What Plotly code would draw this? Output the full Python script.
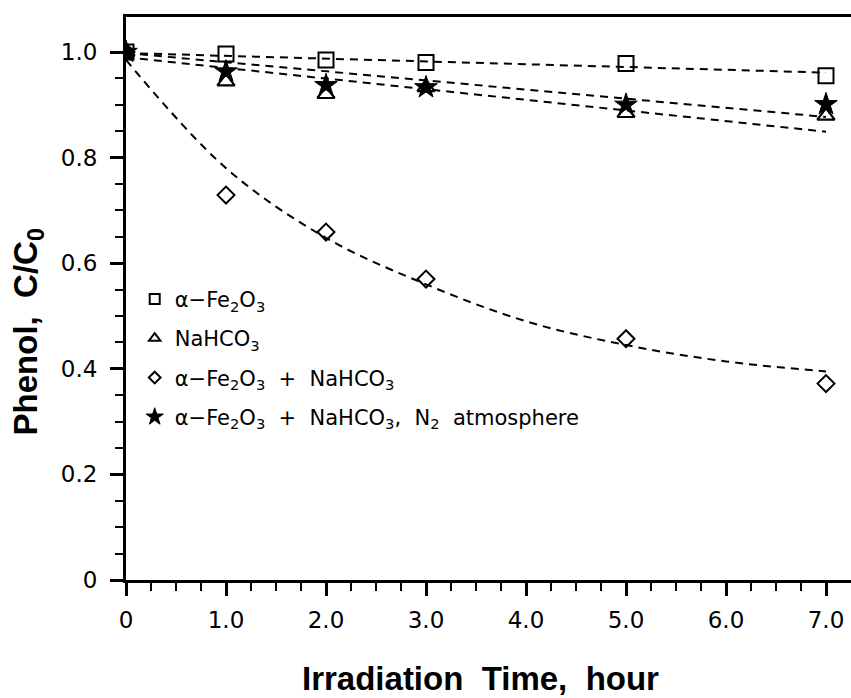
import plotly.graph_objects as go

# ---- data ----
time_h = [0, 1, 2, 3, 5, 7]
fe2o3 = [1.0, 0.996, 0.985, 0.980, 0.978, 0.955]
nahco3 = [1.0, 0.944, 0.920, 0.933, 0.884, 0.879]
fe2o3_nahco3 = [1.0, 0.729, 0.659, 0.570, 0.457, 0.372]
fe2o3_nahco3_n2 = [1.0, 0.963, 0.937, 0.933, 0.900, 0.901]

# fitted (dashed) curves
fit_lin_t = [0, 7]
fit_fe2o3 = [0.998, 0.961]
fit_n2 = [0.998, 0.877]
fit_nahco3 = [0.990, 0.849]
fit_curve_t = [0, 1, 2, 3, 4, 5, 6, 7]
fit_fe2o3_nahco3 = [0.985, 0.780, 0.648, 0.560, 0.490, 0.445, 0.414, 0.395]

x_tickvals = [0, 1, 2, 3, 4, 5, 6, 7]
x_ticktext = ["0", "1.0", "2.0", "3.0", "4.0", "5.0", "6.0", "7.0"]
y_tickvals = [0, 0.2, 0.4, 0.6, 0.8, 1.0]
y_ticktext = ["0", "0.2", "0.4", "0.6", "0.8", "1.0"]
x_minor = [i * 0.25 for i in range(0, 29)]
y_minor = [i * 0.05 for i in range(0, 21)]

names = [
    "α−Fe<sub>2</sub>O<sub>3</sub>",
    "NaHCO<sub>3</sub>",
    "α−Fe<sub>2</sub>O<sub>3</sub>\u00a0\u00a0+\u00a0\u00a0NaHCO<sub>3</sub>",
    "α−Fe<sub>2</sub>O<sub>3</sub>\u00a0\u00a0+\u00a0\u00a0NaHCO<sub>3</sub>,\u00a0\u00a0N<sub>2</sub>\u00a0\u00a0atmosphere",
]

BLACK = "black"
dash = "8px,6px"

fig = go.Figure()

# dashed fit lines
for tx, ty, shape in [
    (fit_lin_t, fit_fe2o3, "linear"),
    (fit_lin_t, fit_n2, "linear"),
    (fit_lin_t, fit_nahco3, "linear"),
    (fit_curve_t, fit_fe2o3_nahco3, "spline"),
]:
    fig.add_trace(go.Scatter(x=tx, y=ty, mode="lines", showlegend=False,
                             line=dict(color=BLACK, width=2, dash=dash, shape=shape),
                             hoverinfo="skip"))

series = [
    (fe2o3, "square-open", 15, 2),
    (nahco3, "triangle-up-open", 15, 2.2),
    (fe2o3_nahco3, "diamond-open", 13, 2),
    (fe2o3_nahco3_n2, "star", 17, 1),
]
for vals, sym, size, lw in series:
    fig.add_trace(go.Scatter(x=time_h, y=vals, mode="markers", showlegend=False,
                             marker=dict(symbol=sym, size=size, color=BLACK,
                                         line=dict(color=BLACK, width=lw))))

# legend entries (small symbols as in the reference)
legend_syms = [("square-open", 10, 2), ("triangle-up-open", 10, 2),
               ("diamond-open", 9, 2), ("star", 13, 1)]
for i, (sym, size, lw) in enumerate(legend_syms):
    fig.add_trace(go.Scatter(x=[None], y=[None], mode="markers", name=names[i],
                             legendgroup=f"g{i}",
                             marker=dict(symbol=sym, size=size, color=BLACK,
                                         line=dict(color=BLACK, width=lw))))

axis_common = dict(
    showline=True, linewidth=3, linecolor=BLACK,
    ticks="outside", ticklen=13, tickwidth=2.5, tickcolor=BLACK,
    showgrid=False, zeroline=False,
    tickfont=dict(family="DejaVu Sans", size=23, color=BLACK),
)

fig.update_xaxes(range=[0, 7.25], tickvals=x_tickvals, ticktext=x_ticktext,
                 mirror=True, ticklabelstandoff=4,
                 minor=dict(tickvals=x_minor, ticks="outside", ticklen=8,
                            tickwidth=2, tickcolor=BLACK),
                 **axis_common)
fig.update_yaxes(range=[0, 1.0663], tickvals=y_tickvals, ticktext=y_ticktext,
                 ticklabelstandoff=8,
                 minor=dict(tickvals=y_minor, ticks="outside", ticklen=8,
                            tickwidth=2, tickcolor=BLACK),
                 **axis_common)

fig.add_annotation(text="Irradiation\u00a0\u00a0Time,\u00a0\u00a0hour", xref="paper", yref="paper",
                   x=0.489, y=-0.212, xanchor="center", yanchor="bottom", showarrow=False,
                   font=dict(family="Liberation Sans", size=33, color=BLACK, weight="bold"))
fig.add_annotation(text="Phenol,\u00a0\u00a0C/C<sub>0</sub>", xref="paper", yref="paper",
                   x=-0.135, y=0.44, xanchor="center", yanchor="middle", showarrow=False,
                   textangle=-90,
                   font=dict(family="Liberation Sans", size=33, color=BLACK, weight="bold"))

fig.update_layout(
    width=851, height=698,
    margin=dict(l=126, r=0, t=17, b=118),
    paper_bgcolor="white", plot_bgcolor="white",
    legend=dict(x=0.012, y=0.535, xanchor="left", yanchor="top",
                bgcolor="rgba(0,0,0,0)", traceorder="grouped", tracegroupgap=9,
                font=dict(family="DejaVu Sans", size=21, color=BLACK)),
)

fig.write_html("out.html")
